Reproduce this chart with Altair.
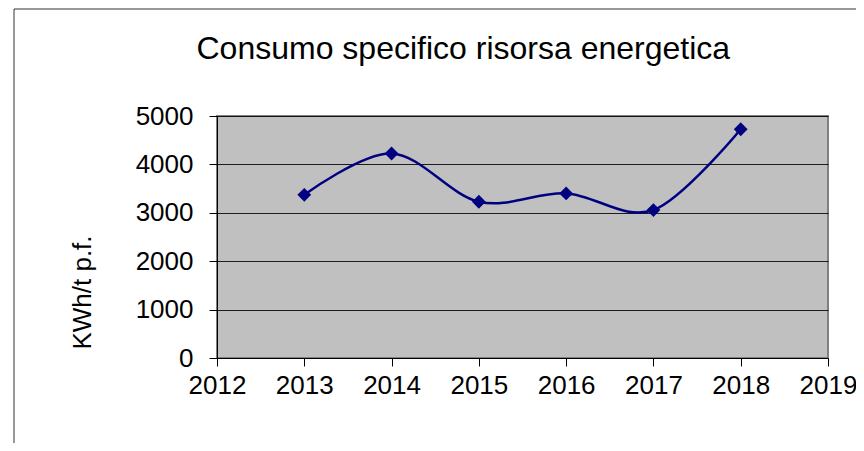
import altair as alt
import pandas as pd

years = [2013, 2014, 2015, 2016, 2017, 2018]
values = [3372, 4225, 3228, 3401, 3057, 4726]
x_ticks = [2012, 2013, 2014, 2015, 2016, 2017, 2018, 2019]
y_ticks = [0, 1000, 2000, 3000, 4000, 5000]
title_text = "Consumo specifico risorsa energetica"
y_title = "KWh/t p.f."

df = pd.DataFrame({"anno": years, "valore": values})

FONT = "Liberation Sans"
NAVY = "#000080"

x_enc = alt.X(
    "anno:Q",
    scale=alt.Scale(domain=[2012, 2019], nice=False, zero=False),
    axis=alt.Axis(
        values=x_ticks, format="d", title=None, grid=False,
        labelFontSize=26, labelFont=FONT, labelColor="black",
        tickSize=8, tickColor="black", domainColor="black",
        labelPadding=6, labelFlush=False,
    ),
)
y_enc = alt.Y(
    "valore:Q",
    scale=alt.Scale(domain=[0, 5000], nice=False),
    axis=alt.Axis(
        values=y_ticks, format="d", title=y_title, grid=True, gridColor="black", gridOpacity=0.85,
        labelFontSize=26, labelFont=FONT, labelColor="black",
        tickSize=8, tickColor="black", domainColor="black",
        labelPadding=16,
        titleFontSize=26, titleFont=FONT, titleFontWeight="normal", titleColor="black",
        titleX=-135, titleY=176, titleBaseline="middle", titleAngle=270,
    ),
)

base = alt.Chart(df)

line = base.mark_line(
    color=NAVY, strokeWidth=2.5, interpolate="cardinal", tension=0
).encode(x=x_enc, y=y_enc)

points = base.mark_point(
    shape="diamond", filled=True, color=NAVY, size=190, opacity=1
).encode(x="anno:Q", y="valore:Q")

frame = alt.Chart(pd.DataFrame({"f": [0]})).mark_rect(
    fill=None, stroke="#333333", strokeWidth=1
).encode(
    x=alt.value(-203), x2=alt.value(800), y=alt.value(-107), y2=alt.value(500)
)

chart = alt.layer(frame, line, points).properties(
    width=611,
    height=242,
    title=alt.TitleParams(
        text=title_text, anchor="start", dx=183, dy=82, fontSize=32, font=FONT,
        fontWeight="normal", color="black", baseline="alphabetic", offset=0,
    ),
    autosize=alt.AutoSizeParams(type="none"),
    padding={"left": 209, "top": 108, "right": 28, "bottom": 85},
).configure(
    background="white"
).configure_view(
    fill="#C0C0C0", stroke="#808080", strokeWidth=2
)

chart.save("out.html", embed_options={"renderer": "svg", "actions": False})
